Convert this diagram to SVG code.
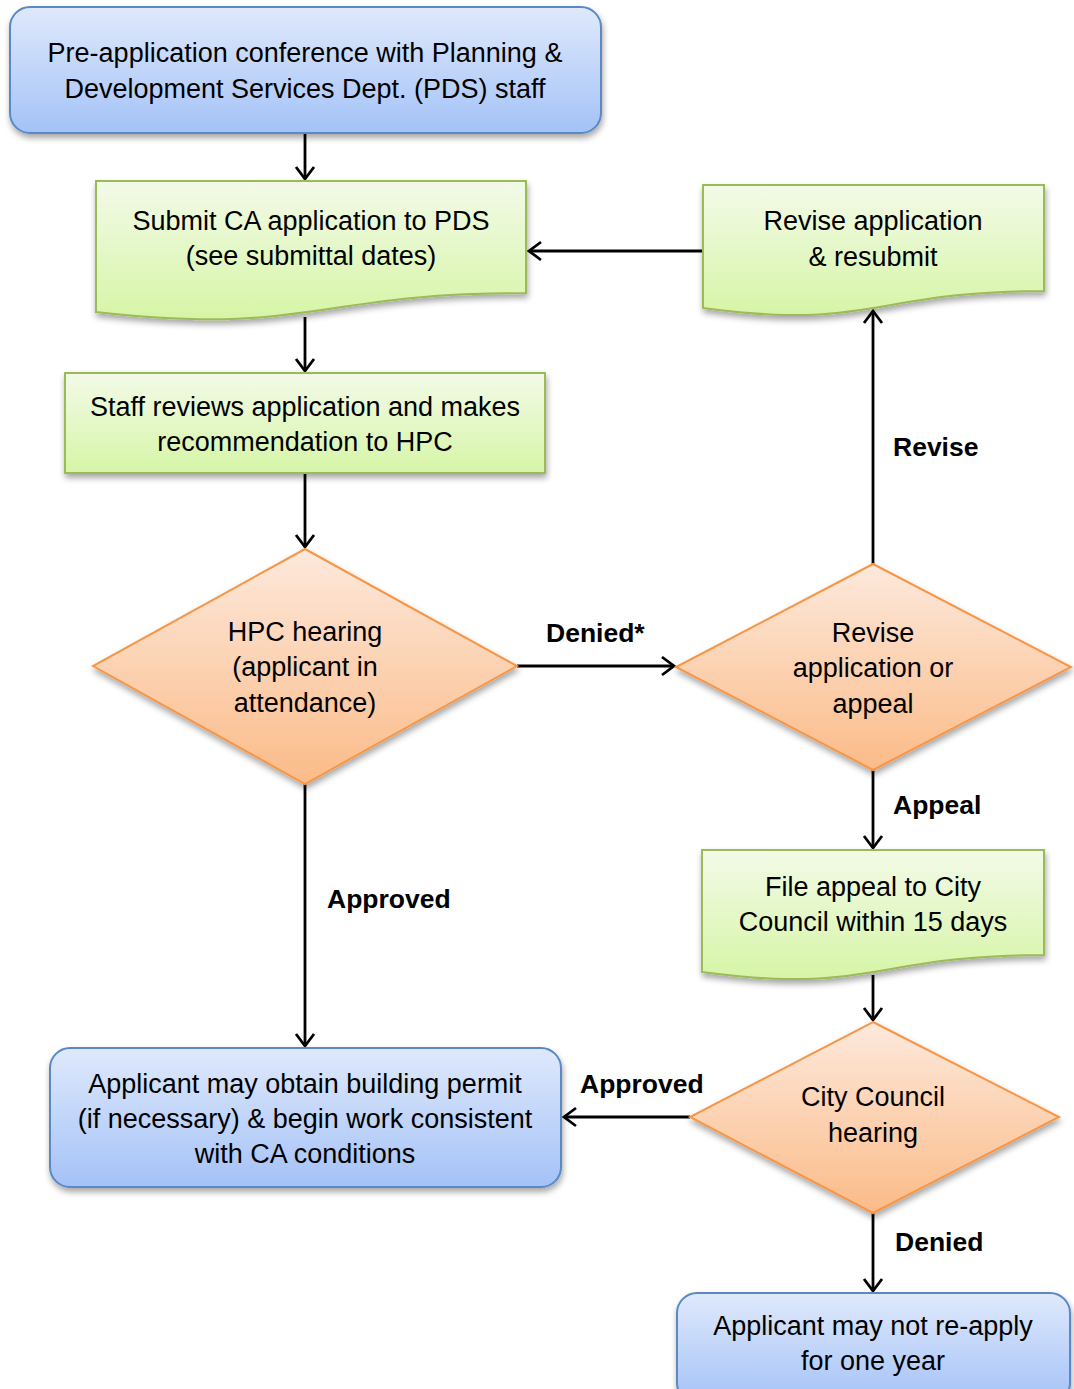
<svg xmlns="http://www.w3.org/2000/svg" width="1074" height="1389" viewBox="0 0 1074 1389">
<defs>
<linearGradient id="gBlue" x1="0" y1="0" x2="0" y2="1"><stop offset="0" stop-color="#dfe9fc"/><stop offset="1" stop-color="#a4c2f7"/></linearGradient>
<linearGradient id="gGreen" x1="0" y1="0" x2="0" y2="1"><stop offset="0" stop-color="#f3fae8"/><stop offset="1" stop-color="#d6f5a6"/></linearGradient>
<linearGradient id="gOrange" x1="0" y1="0" x2="0" y2="1"><stop offset="0" stop-color="#fde9dc"/><stop offset="1" stop-color="#fbbb88"/></linearGradient>
<filter id="sh" x="-10%" y="-10%" width="120%" height="130%"><feDropShadow dx="1" dy="4" stdDeviation="3" flood-color="#000" flood-opacity="0.35"/></filter>
<marker id="arr" markerUnits="userSpaceOnUse" markerWidth="26" markerHeight="26" viewBox="-15 -13 17 26" refX="0" refY="0" orient="auto"><path d="M-12,-9 L0,0 L-12,9" fill="none" stroke="#000" stroke-width="2.8"/></marker>
<style>
.blue{fill:url(#gBlue);stroke:#5a89c4;stroke-width:2;filter:url(#sh)}
.green{fill:url(#gGreen);stroke:#9bbb59;stroke-width:2;filter:url(#sh)}
.orange{fill:url(#gOrange);stroke:#f79646;stroke-width:2;filter:url(#sh)}
text{font-family:"Liberation Sans",Arial,sans-serif;font-size:27px;fill:#000}
.c{text-anchor:middle}
.lbl{font-weight:bold;font-size:26.5px}
.con{stroke:#000;stroke-width:2.8;fill:none;marker-end:url(#arr)}
</style>
</defs>

<g id="connectors">
<line class="con" x1="305" y1="134" x2="305" y2="179"/>
<line class="con" x1="305" y1="317" x2="305" y2="371"/>
<line class="con" x1="305" y1="474" x2="305" y2="547"/>
<line class="con" x1="703" y1="251" x2="529" y2="251"/>
<line class="con" x1="517" y1="666" x2="674" y2="666"/>
<line class="con" x1="873" y1="564" x2="873" y2="311"/>
<line class="con" x1="873" y1="770" x2="873" y2="848"/>
<line class="con" x1="873" y1="975" x2="873" y2="1020"/>
<line class="con" x1="305" y1="784" x2="305" y2="1046"/>
<line class="con" x1="690" y1="1117" x2="564" y2="1117"/>
<line class="con" x1="873" y1="1213" x2="873" y2="1291"/>
<text class="lbl" x="546" y="642">Denied*</text>
<text class="lbl" x="893" y="456">Revise</text>
<text class="lbl" x="893" y="814">Appeal</text>
<text class="lbl" x="327" y="908">Approved</text>
<text class="lbl" x="580" y="1093">Approved</text>
<text class="lbl" x="895" y="1251">Denied</text>
</g>

<g id="preapp">
<rect class="blue" x="10" y="7" width="591" height="126" rx="20"/>
<text class="c" x="305" y="62">Pre-application conference with Planning &amp;</text>
<text class="c" x="305" y="98">Development Services Dept. (PDS) staff</text>
</g>

<g id="submit">
<path class="green" d="M96,181 H526 V293 C311,293 311,336 96,312 Z"/>
<text class="c" x="311" y="230">Submit CA application to PDS</text>
<text class="c" x="311" y="265">(see submittal dates)</text>
</g>

<g id="revise-resubmit">
<path class="green" d="M703,185 H1044 V291 C873,291 873,331 703,308 Z"/>
<text class="c" x="873" y="230">Revise application</text>
<text class="c" x="873" y="266">&amp; resubmit</text>
</g>

<g id="staff">
<rect class="green" x="65" y="373" width="480" height="100"/>
<text class="c" x="305" y="416">Staff reviews application and makes</text>
<text class="c" x="305" y="451">recommendation to HPC</text>
</g>

<g id="hpc">
<polygon class="orange" points="305,549 517,666 305,784 93,666"/>
<text class="c" x="305" y="641">HPC hearing</text>
<text class="c" x="305" y="676">(applicant in</text>
<text class="c" x="305" y="712">attendance)</text>
</g>

<g id="revise-or-appeal">
<polygon class="orange" points="873,564 1071,667 873,770 676,667"/>
<text class="c" x="873" y="642">Revise</text>
<text class="c" x="873" y="677">application or</text>
<text class="c" x="873" y="713">appeal</text>
</g>

<g id="file-appeal">
<path class="green" d="M702,850 H1044 V955 C873,955 873,995 702,972 Z"/>
<text class="c" x="873" y="896">File appeal to City</text>
<text class="c" x="873" y="931">Council within 15 days</text>
</g>

<g id="council">
<polygon class="orange" points="873,1022 1059,1117 873,1213 690,1117"/>
<text class="c" x="873" y="1106">City Council</text>
<text class="c" x="873" y="1142">hearing</text>
</g>

<g id="permit">
<rect class="blue" x="50" y="1048" width="511" height="139" rx="20"/>
<text class="c" x="305" y="1093">Applicant may obtain building permit</text>
<text class="c" x="305" y="1128">(if necessary) &amp; begin work consistent</text>
<text class="c" x="305" y="1163">with CA conditions</text>
</g>

<g id="no-reapply">
<rect class="blue" x="677" y="1293" width="393" height="110" rx="20"/>
<text class="c" x="873" y="1335">Applicant may not re-apply</text>
<text class="c" x="873" y="1370">for one year</text>
</g>
</svg>
